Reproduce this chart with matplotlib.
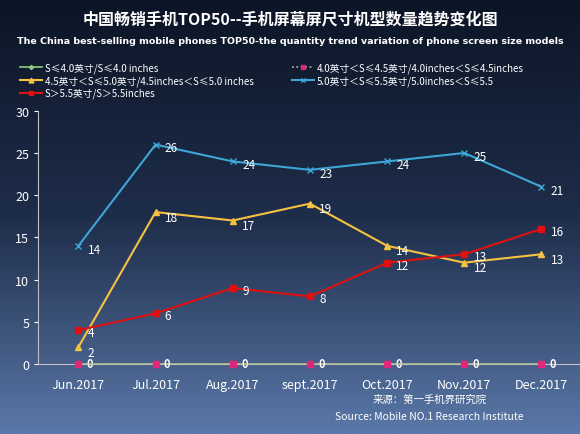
import matplotlib
matplotlib.use("Agg")
import matplotlib.pyplot as plt
import numpy as np
from matplotlib.colors import LinearSegmentedColormap

plt.rcParams['font.family'] = ['Noto Sans CJK SC', 'DejaVu Sans']

months = ["Jun.2017", "Jul.2017", "Aug.2017", "sept.2017", "Oct.2017", "Nov.2017", "Dec.2017"]
s_le40 = [0, 0, 0, 0, 0, 0, 0]
s_40_45 = [0, 0, 0, 0, 0, 0, 0]
s_45_50 = [2, 18, 17, 19, 14, 12, 13]
s_50_55 = [14, 26, 24, 23, 24, 25, 21]
s_gt55 = [4, 6, 9, 8, 12, 13, 16]

fig = plt.figure(figsize=(5.8, 4.35), dpi=100)
bg = fig.add_axes([0, 0, 1, 1])
grad = np.linspace(0, 1, 256).reshape(-1, 1)
cmap = LinearSegmentedColormap.from_list("bg", ["#0c1526", "#1e2d4a", "#5a78a8"])
bg.imshow(grad, aspect="auto", cmap=cmap, extent=[0, 1, 0, 1])
bg.axis("off")

fig.text(0.5, 0.955, "中国畅销手机TOP50--手机屏幕屏尺寸机型数量趋势变化图", ha="center", va="center",
         color="white", fontsize=11.5, fontweight="bold")
fig.text(0.5, 0.905, "The China best-selling mobile phones TOP50-the quantity trend variation of phone screen size models",
         ha="center", va="center", color="white", fontsize=6.8, fontweight="bold", family="DejaVu Sans")

ax = fig.add_axes([0.066, 0.161, 0.934, 0.582])
ax.set_facecolor("none")
x = np.arange(len(months))
l1, = ax.plot(x, s_le40, color="#8fc97a", marker="D", ms=3, lw=1.2, clip_on=False)
l2, = ax.plot(x, s_40_45, color="#c8b89a", ls=":", marker="s", ms=5, mfc="#e0287a", mec="#e0287a",
              lw=1.2, clip_on=False, zorder=4)
l3, = ax.plot(x, s_45_50, color="#f5c242", marker="^", ms=5, lw=1.5)
l4, = ax.plot(x, s_50_55, color="#3ea6d6", marker="x", ms=4, lw=1.5)
l5, = ax.plot(x, s_gt55, color="#e01010", marker="s", ms=5, lw=1.5)

for i in x:
    ax.text(i + 0.15, s_40_45[i], "0", color="white", fontsize=8, ha="center", va="center",
            fontweight="bold", clip_on=False)
    ax.text(i + 0.12, s_45_50[i] - 0.6, str(s_45_50[i]), color="white", fontsize=8.5, va="center")
    ax.text(i + 0.12, s_50_55[i] - 0.4, str(s_50_55[i]), color="white", fontsize=8.5, va="center")
    ax.text(i + 0.12, s_gt55[i] - 0.3, str(s_gt55[i]), color="white", fontsize=8.5, va="center")

ax.set_xlim(-0.52, 6.5)
ax.set_ylim(0, 30)
ax.set_yticks(range(0, 31, 5))
ax.set_xticks(x)
ax.set_xticklabels(months)
ax.tick_params(colors="white", labelsize=9, length=3)
ax.tick_params(axis="x", length=0, pad=10)
for s in ["top", "right"]:
    ax.spines[s].set_visible(False)
ax.spines["left"].set_color("#c0c0c0")
ax.spines["bottom"].set_color("#c0c0c0")

labels = ["S≤4.0英寸/S≤4.0 inches", "4.5英寸＜S≤5.0英寸/4.5inches＜S≤5.0 inches",
          "S＞5.5英寸/S＞5.5inches", "4.0英寸＜S≤4.5英寸/4.0inches＜S≤4.5inches",
          "5.0英寸＜S≤5.5英寸/5.0inches＜S≤5.5"]
fig.legend([l1, l3, l5, l2, l4], labels, loc="upper left", bbox_to_anchor=(0.02, 0.875),
           ncol=2, frameon=False, fontsize=7, labelcolor="white", handlelength=2.2,
           columnspacing=4, handletextpad=0.3, labelspacing=0.25, markerscale=0.7)

fig.text(0.74, 0.075, "来源：第一手机界研究院", color="white", fontsize=7.5, ha="center")
fig.text(0.74, 0.035, "Source: Mobile NO.1 Research Institute", color="white", fontsize=7.5, ha="center")

fig.savefig("out.png", dpi=100)
